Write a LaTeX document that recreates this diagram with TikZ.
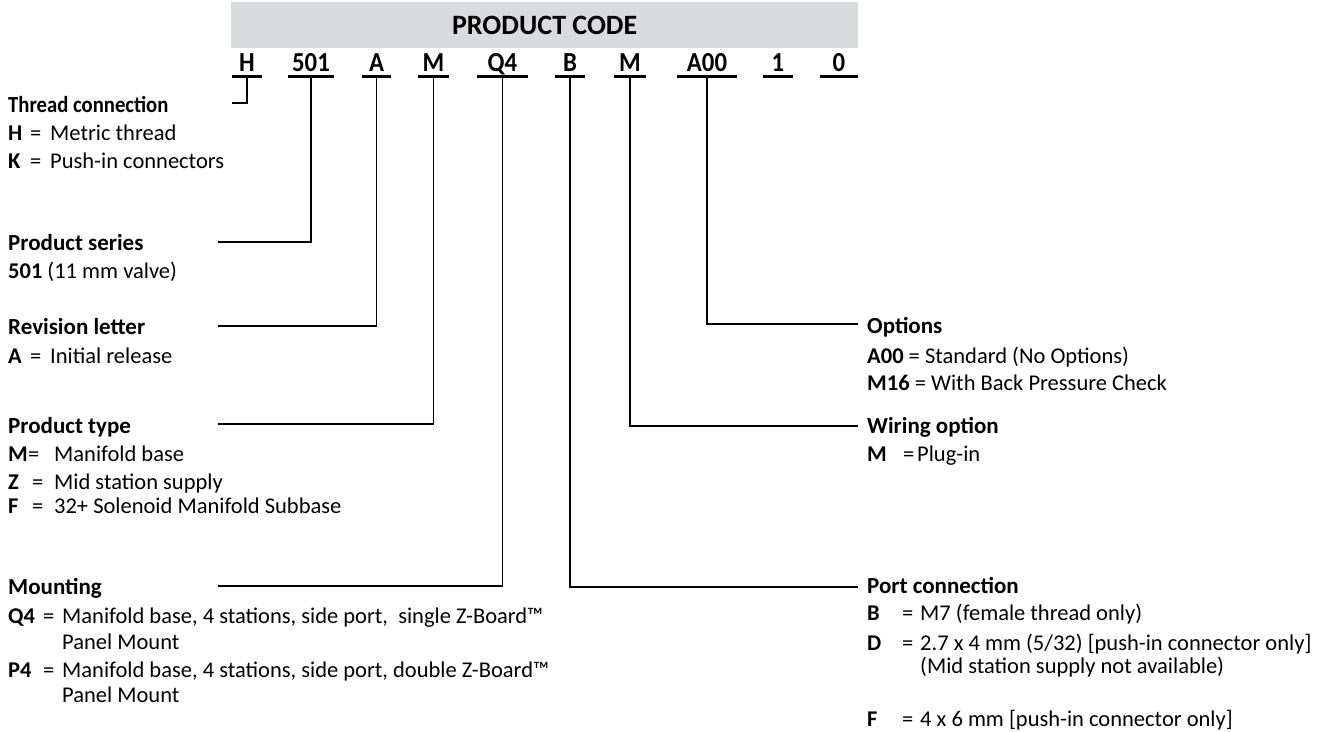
\documentclass[tikz,border=0pt]{standalone}
\usepackage{fontspec}
\setmainfont{Carlito}
\newfontfamily\condfont[FakeStretch=0.9]{Carlito}
\usetikzlibrary{positioning}
\definecolor{bandgray}{HTML}{D9DBDC}
\newcommand{\cod}[3]{\makebox[#1][l]{\bfseries #2}\makebox[#3][l]{=}}
\begin{document}
\begin{tikzpicture}[x=1pt,y=-1pt]

\tikzset{codenode/.style={anchor=base,inner sep=0pt,text depth=5pt,font=\condfont\bfseries\fontsize{27.5}{30}\selectfont},}
\tikzset{headnode/.style={anchor=north west,fill=bandgray,inner sep=0pt,minimum width=627pt,minimum height=46pt,font=\bfseries\fontsize{28}{32}\selectfont},}
\tikzset{grouptext/.style={anchor=base west,inner sep=0pt,font=\bfseries\fontsize{23}{26}\selectfont},}
\tikzset{itemtext/.style={anchor=base west,inner sep=0pt,font=\fontsize{22.5}{26}\selectfont},}
\tikzset{uline/.style={line width=2.6pt},}
\tikzset{lead/.style={line width=1.4pt},}

\useasboundingbox (0,0) rectangle (1328,731);

%HEADER
\draw (231,2) node [headnode] (head) {PRODUCT CODE};

%CODE
\draw (247,71) node [codenode,minimum width=30pt] (cH) {H};
\draw (311,71) node [codenode,minimum width=46pt] (cSer) {501};
\draw (376.5,71) node [codenode,minimum width=29pt] (cRev) {A};
\draw (433.5,71) node [codenode,minimum width=31pt] (cTyp) {M};
\draw (502.5,71) node [codenode,minimum width=51pt] (cMnt) {Q4};
\draw (570,71) node [codenode,minimum width=30pt] (cPort) {B};
\draw (630,71) node [codenode,minimum width=31pt] (cWir) {M};
\draw (707,71) node [codenode,minimum width=60pt] (cOpt) {A00};
\draw (778,71) node [codenode,minimum width=30pt] (cOne) {1};
\draw (839,71) node [codenode,minimum width=38pt] (cZero) {0};
\foreach \c in {cH,cSer,cRev,cTyp,cMnt,cPort,cWir,cOpt,cOne,cZero}
  \draw[uline] (\c.south west) -- (\c.south east);

%LEFT
\draw (8,112) node [grouptext] (gThread) {\condfont Thread connection};
\draw (8,140) node [itemtext] (iH) {\cod{22pt}{H}{20pt}Metric thread};
\draw (8,168) node [itemtext] (iK) {\cod{22pt}{K}{20pt}Push-in connectors};

\draw (8,250) node [grouptext] (gSeries) {Product series};
\draw (8,278) node [itemtext] (i501) {\textbf{501} (11 mm valve)};

\draw (8,334) node [grouptext] (gRev) {Revision letter};
\draw (8,363) node [itemtext] (iA) {\cod{22pt}{A}{20pt}Initial release};

\draw (8,433) node [grouptext] (gType) {Product type};
\draw (8,461) node [itemtext] (iM) {\cod{20pt}{M}{26pt}Manifold base};
\draw (8,489) node [itemtext] (iZ) {\cod{24pt}{Z}{22pt}Mid station supply};
\draw (8,513) node [itemtext] (iF) {\cod{24pt}{F}{22pt}32+ Solenoid Manifold Subbase};

\draw (8,594) node [grouptext] (gMount) {Mounting};
\draw (8,623) node [itemtext] (iQ4) {\cod{35pt}{Q4}{19pt}Manifold base, 4 stations, side port,\ \ single Z-Board\texttrademark};
\draw (62,649) node [itemtext] (iQ4b) {Panel Mount};
\draw (8,677) node [itemtext] (iP4) {\cod{35pt}{P4}{19pt}Manifold base, 4 stations, side port, double Z-Board\texttrademark};
\draw (62,702) node [itemtext] (iP4b) {Panel Mount};

%RIGHT
\draw (867,333) node [grouptext] (gOpt) {Options};
\draw (867,363) node [itemtext] (iA00) {\textbf{A00} = Standard (No Options)};
\draw (867,390) node [itemtext] (iM16) {\textbf{M16} = With Back Pressure Check};

\draw (867,433) node [grouptext] (gWir) {Wiring option};
\draw (867,461) node [itemtext] (iPlug) {\cod{36pt}{M}{14pt}Plug-in};

\draw (867,593) node [grouptext] (gPort) {Port connection};
\draw (867,620) node [itemtext] (iB) {\cod{35pt}{B}{18pt}M7 (female thread only)};
\draw (867,650) node [itemtext] (iD) {\cod{35pt}{D}{18pt}2.7 x 4 mm (5/32) [push-in connector only]};
\draw (920,673) node [itemtext] (iDb) {(Mid station supply not available)};
\draw (867,726) node [itemtext] (iF6) {\cod{35pt}{F}{18pt}4 x 6 mm [push-in connector only]};

%LEADS
\coordinate (eThread) at (232,103);
\coordinate (eSeries) at (218,242);
\coordinate (eRev) at (218,326);
\coordinate (eType) at (218,424);
\coordinate (eMount) at (218,586);
\coordinate (eOpt) at (858,324);
\coordinate (eWir) at (858,426);
\coordinate (ePort) at (858,587);

\draw[lead] (cH.south) |- (eThread);
\draw[lead] (cSer.south) |- (eSeries);
\draw[lead] (cRev.south) |- (eRev);
\draw[lead] (cTyp.south) |- (eType);
\draw[lead] (cMnt.south) |- (eMount);
\draw[lead] (cOpt.south) |- (eOpt);
\draw[lead] (cWir.south) |- (eWir);
\draw[lead] (cPort.south) |- (ePort);

\end{tikzpicture}
\end{document}
